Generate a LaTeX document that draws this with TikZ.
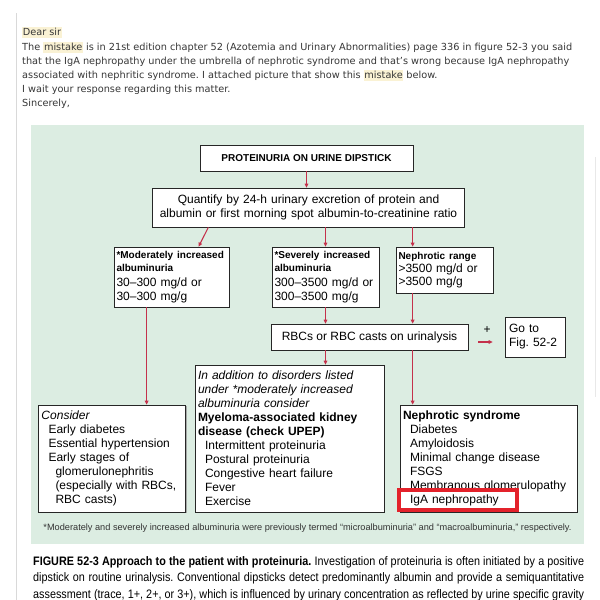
\documentclass[tikz,border=0pt]{standalone}
\usepackage{fontspec}
\setmainfont{Liberation Sans}
\newfontfamily\letterfont{DejaVu Sans}
\newfontfamily\capfont[FakeStretch=0.88]{Liberation Sans}
\usetikzlibrary{arrows.meta,shadows}
\definecolor{panel}{RGB}{220,237,226}
\definecolor{connred}{RGB}{196,49,75}
\definecolor{hlred}{RGB}{227,34,43}
\definecolor{hlyellow}{RGB}{250,242,212}
\definecolor{lettertext}{RGB}{55,55,55}
\newcommand\hlword[1]{{\setlength{\fboxsep}{0.6pt}\colorbox{hlyellow}{\vphantom{Ag}#1}}}
\newcommand\regf{\fontsize{12}{14}\selectfont}
\newcommand\smb[1]{{\fontsize{10}{12}\selectfont\bfseries #1}}
\begin{document}
\frenchspacing
\begin{tikzpicture}[x=1pt,y=-1pt,
  box/.style={draw=black!85, line width=0.7pt, fill=white, inner ysep=0pt,
    drop shadow={shadow xshift=1pt,shadow yshift=-1pt,fill=black!40,opacity=0.8}},
  conn/.style={draw=connred, line width=1.1pt, -{Triangle[length=4pt,width=3.6pt]}},
  letter/.style={anchor=base west, inner sep=0pt, text=lettertext, font=\letterfont\fontsize{9.75}{13}\selectfont},
  capline/.style={anchor=base west, inner sep=0pt, font=\capfont\fontsize{12.3}{14}\selectfont}]
\useasboundingbox (0,0) rectangle (600,600);
\fill[white] (0,0) rectangle (600,600);
% page rules
\draw[black!15, line width=1pt] (16,13) -- (16,600);
\draw[black!9, line width=1pt] (595,157) -- (595,397);
% letter
\node[letter] (l1) at (22,35) {\hlword{Dear sir}};
\node[letter] (l2) at (22,50) {The \hlword{mistake} is in 21st edition chapter 52 (Azotemia and Urinary Abnormalities) page 336 in figure 52-3 you said};
\node[letter] (l3) at (22,64.5) {that the IgA nephropathy under the umbrella of nephrotic syndrome and that’s wrong because IgA nephropathy};
\node[letter] (l4) at (22,78.5) {associated with nephritic syndrome. I attached picture that show this \hlword{mistake} below.};
\node[letter] (l5) at (22,92.5) {I wait your response regarding this matter.};
\node[letter] (l6) at (22,106.5) {Sincerely,};
% panel
\fill[panel] (31,125) rectangle (584,544);
% boxes
\node[box, minimum width=213pt, minimum height=26pt, font=\fontsize{10}{12}\selectfont\bfseries] (title) at (306.5,158) {PROTEINURIA ON URINE DIPSTICK};
\node[box, minimum width=311pt, minimum height=39pt, text width=305pt, align=center, font=\regf] (quant) at (308.5,207.5) {Quantify by 24-h urinary excretion of protein and\\albumin or first morning spot albumin-to-creatinine ratio};
\node[box, minimum width=115pt, minimum height=60pt, text width=110pt, inner xsep=2.5pt, align=left, font=\regf] (mod) at (171.5,277) {\smb{*Moderately increased}\\[-1pt]\smb{albuminuria}\\[0.5pt]30–300 mg/d or\\30–300 mg/g};
\node[box, minimum width=107pt, minimum height=60pt, text width=102pt, inner xsep=2.5pt, align=left, font=\regf] (sev) at (325.5,277) {\smb{*Severely increased}\\[-1pt]\smb{albuminuria}\\[0.5pt]300–3500 mg/d or\\300–3500 mg/g};
\node[box, minimum width=97pt, minimum height=46pt, text width=92pt, inner xsep=2.5pt, align=left, font=\regf] (neph) at (444.5,270) {\smb{Nephrotic range}\\[-1pt]>3500 mg/d or\\[-1pt]>3500 mg/g};
\node[box, minimum width=197pt, minimum height=26pt, font=\regf] (rbc) at (369.5,337) {RBCs or RBC casts on urinalysis};
\node[box, minimum width=60pt, minimum height=40pt, text width=52pt, inner xsep=4pt, align=left, font=\regf] (goto) at (535,337) {Go to\\Fig. 52-2};
\node[inner sep=0pt, font=\fontsize{12}{12}\selectfont] (plus) at (487,330) {+};
\node[box, minimum width=147pt, minimum height=107pt, text width=141pt, inner xsep=3pt, align=left, font=\regf] (left) at (112,458.5) {\textit{Consider}\\\hspace*{7pt}Early diabetes\\\hspace*{7pt}Essential hypertension\\\hspace*{7pt}Early stages of\\\hspace*{14pt}glomerulonephritis\\\hspace*{14pt}(especially with RBCs,\\\hspace*{14pt}RBC casts)};
\node[box, minimum width=189pt, minimum height=147pt, text width=183pt, inner xsep=3pt, align=left, font=\regf] (mid) at (289.5,438.5) {\textit{In addition to disorders listed}\\\textit{under *moderately increased}\\\textit{albuminuria consider}\\\textbf{Myeloma-associated kidney}\\\textbf{disease (check UPEP)}\\\hspace*{7pt}Intermittent proteinuria\\\hspace*{7pt}Postural proteinuria\\\hspace*{7pt}Congestive heart failure\\\hspace*{7pt}Fever\\\hspace*{7pt}Exercise};
\node[box, minimum width=177pt, minimum height=107pt, text width=171pt, inner xsep=3pt, align=left, font=\regf] (right) at (488.5,458.5) {\textbf{Nephrotic syndrome}\\\hspace*{7pt}Diabetes\\\hspace*{7pt}Amyloidosis\\\hspace*{7pt}Minimal change disease\\\hspace*{7pt}FSGS\\\hspace*{7pt}Membranous glomerulopathy\\\hspace*{7pt}IgA nephropathy};
\node[draw=hlred, line width=3.5pt, minimum width=118pt, minimum height=20pt, inner sep=0pt] (hl) at (458,500) {};
% connectors
\path ([xshift=17pt]neph.south west) coordinate (nb);
\path ([xshift=33pt]mod.south west) coordinate (mb);
\draw[conn] (title.south) -- (title.south |- quant.north);
\draw[conn] ([xshift=56pt]quant.south west) -- ([xshift=85pt]mod.north west);
\draw[conn] (sev.north |- quant.south) -- (sev.north);
\draw[conn] (nb |- quant.south) -- (nb |- neph.north);
\draw[conn] (sev.south) -- (sev.south |- rbc.north);
\draw[conn] (nb) -- (nb |- rbc.north);
\draw[conn] (sev.south |- rbc.south) -- (sev.south |- mid.north);
\draw[conn] (nb |- rbc.south) -- (nb |- right.north);
\draw[conn] (mb) -- (mb |- left.north);
\draw[conn, shorten <=10pt, shorten >=12pt] ([yshift=-5pt]rbc.east) -- ([yshift=-5pt]goto.west);
% footnote
\node[inner sep=0pt, text=black!80, font=\fontsize{9.2}{10}\selectfont] (foot) at (307.5,528) {*Moderately and severely increased albuminuria were previously termed “microalbuminuria” and “macroalbuminuria,” respectively.};
% caption
\node[capline] (c1) at (33,565) {\makebox[551pt][s]{\textbf{FIGURE 52-3 Approach to the patient with proteinuria.} Investigation of proteinuria is often initiated by a positive}};
\node[capline] (c2) at (33,581.5) {\makebox[551pt][s]{dipstick on routine urinalysis. Conventional dipsticks detect predominantly albumin and provide a semiquantitative}};
\node[capline] (c3) at (33,598) {\makebox[551pt][s]{assessment (trace, 1+, 2+, or 3+), which is influenced by urinary concentration as reflected by urine specific gravity}};
\end{tikzpicture}
\end{document}
